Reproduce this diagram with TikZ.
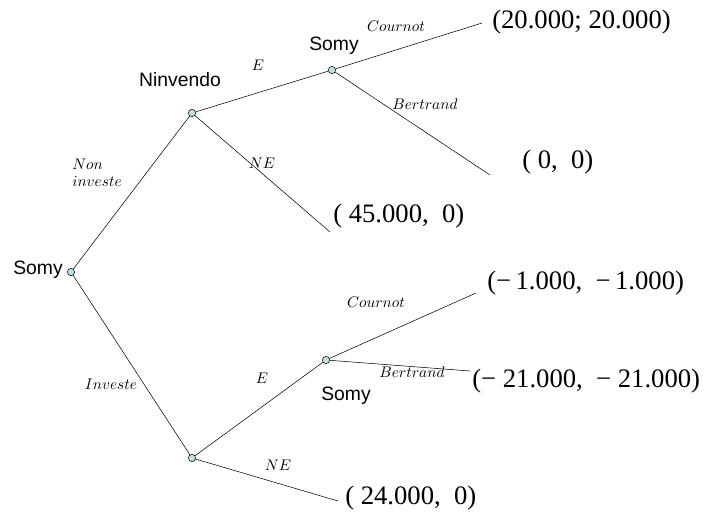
\RequirePackage{fix-cm}
\documentclass[tikz,border=0pt]{standalone}
\usepackage{fontspec}
\setmainfont{Liberation Serif}
\setsansfont{Liberation Sans}
\definecolor{nodefill}{RGB}{190,226,226}
\tikzset{
 dec/.style={circle,draw=black,fill=nodefill,inner sep=0pt,minimum size=5.5pt,line width=0.4pt},
 player/.style={font=\sffamily\fontsize{14.5}{16}\selectfont},
 act/.style={font=\fontsize{11.5}{13}\selectfont},
 pay/.style={anchor=west,font=\fontsize{20}{22}\selectfont,inner sep=0pt}
}
\begin{document}
\begin{tikzpicture}[x=0.75pt,y=-0.75pt]
 \useasboundingbox (0,0) rectangle (717,514);
 % decision nodes
 \node[dec] (s0) at (71,272) {};
 \node[dec] (n1) at (192,113) {};
 \node[dec] (s1) at (332,70) {};
 \node[dec] (n2) at (192,458) {};
 \node[dec] (s2) at (326,360) {};
 % end points of the branches
 \coordinate (e1) at (482,23);
 \coordinate (e2) at (490,175);
 \coordinate (e3) at (330,232);
 \coordinate (e4) at (476,293);
 \coordinate (e5) at (470,371);
 \coordinate (e6) at (338,501);
 % branches
 \draw (s0)--(n1); \draw (s0)--(n2);
 \draw (n1)--(s1); \draw (n1)--(e3);
 \draw (s1)--(e1); \draw (s1)--(e2);
 \draw (n2)--(s2); \draw (n2)--(e6);
 \draw (s2)--(e4); \draw (s2)--(e5);
 % players
 \node[player] (p0) at (38,270) {Somy};
 \node[player] (p1) at (180,80) {Ninvendo};
 \node[player] (p2) at (334,46) {Somy};
 \node[player] (p3) at (346,396) {Somy};
 % actions
 \node[act,align=left] (a1) at (97,173) {$Non$\\$investe$};
 \node[act] (a2) at (111,384) {$Investe$};
 \node[act] (a3) at (258,65) {$E$};
 \node[act] (a4) at (262,163) {$NE$};
 \node[act] (a5) at (396,26) {$Cournot$};
 \node[act] (a6) at (425,104) {$Bertrand$};
 \node[act] (a7) at (376,302) {$Cournot$};
 \node[act] (a8) at (412,372) {$Bertrand$};
 \node[act] (a9) at (262,378) {$E$};
 \node[act] (a10) at (278,465) {$NE$};
 % payoffs
 \node[pay] (u1) at (492,22) {(20.000; 20.000)};
 \node[pay] (u2) at (522,162) {( 0,\ \ 0)};
 \node[pay] (u3) at (333,216) {( 45.000,\ \ 0)};
 \node[pay] (u4) at (487,283) {(−\,1.000,\ \ −\,1.000)};
 \node[pay] (u5) at (472,381) {(−\ 21.000,\ \ −\ 21.000)};
 \node[pay] (u6) at (345,498) {( 24.000,\ \ 0)};
\end{tikzpicture}
\end{document}
